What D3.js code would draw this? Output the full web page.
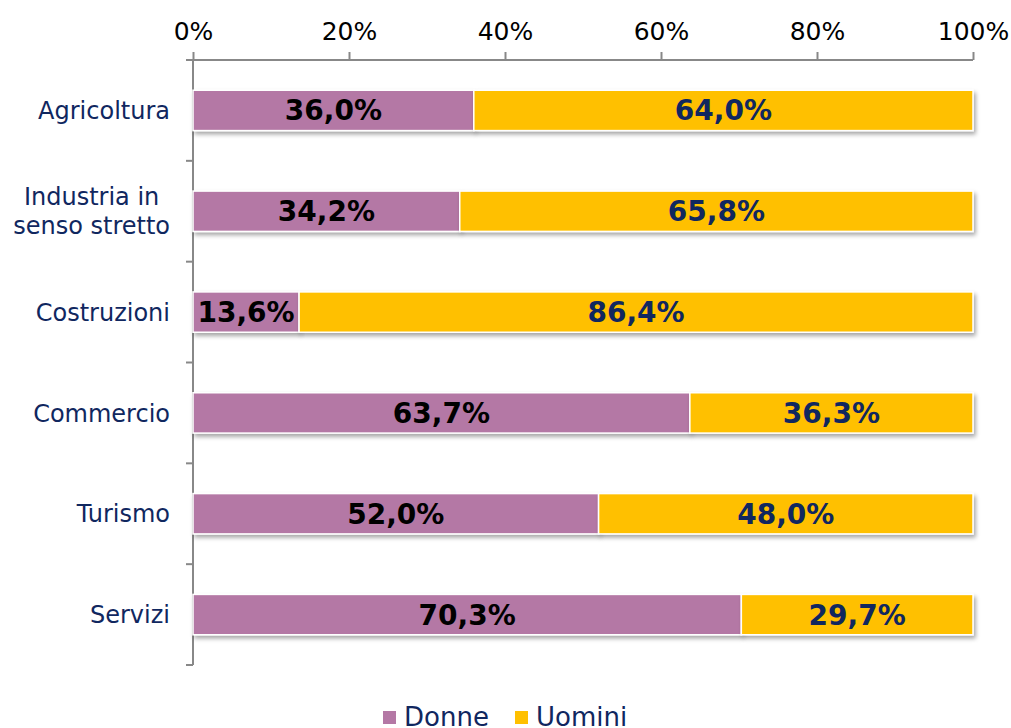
<!DOCTYPE html>
<html>
<head>
<meta charset="utf-8">
<script src="https://cdn.jsdelivr.net/npm/d3@7"></script>
<style>
  body { margin: 0; background: #fff; }
</style>
</head>
<body>
<svg id="chart" width="1011" height="728"></svg>
<script>
const categories = ['Agricoltura', 'Industria in\nsenso stretto', 'Costruzioni', 'Commercio', 'Turismo', 'Servizi']
const donne = [36.0, 34.2, 13.6, 63.7, 52.0, 70.3]
const uomini = [64.0, 65.8, 86.4, 36.3, 48.0, 29.7]
const xTicks = [0, 20, 40, 60, 80, 100]
const seriesNames = ['Donne', 'Uomini']

const margin = { top: 60, right: 38, bottom: 63, left: 193 }
const width = 1011 - margin.left - margin.right
const height = 728 - margin.top - margin.bottom
const font = 'DejaVu Sans, Verdana, sans-serif'
const navy = '#10275f'
const colors = ['#b478a5', '#ffc000']
const labelColors = ['#000000', navy]

const fmt = (v) => v.toFixed(1).replace('.', ',') + '%'

const svg = d3.select('#chart')

const defs = svg.append('defs')
const filter = defs.append('filter').attr('id', 'shadow')
  .attr('x', '-5%').attr('y', '-20%').attr('width', '110%').attr('height', '160%')
filter.append('feDropShadow')
  .attr('dx', 2).attr('dy', 3).attr('stdDeviation', 2)
  .attr('flood-color', '#000').attr('flood-opacity', 0.35)

const chart = svg.append('g').attr('transform', `translate(${margin.left},${margin.top})`)

const xScale = d3.scaleLinear().domain([0, 100]).range([0, width])
const yScale = d3.scaleBand().domain(categories).range([0, height]).paddingInner(0.6).paddingOuter(0.3)

// x axis on top
const xAxis = chart.append('g')
  .call(d3.axisTop(xScale).tickValues(xTicks).tickFormat((d) => d + '%').tickSize(8).tickSizeOuter(0))
xAxis.select('.domain').attr('stroke', '#888').attr('stroke-width', 2).attr('d', `M-7,0H${width}`)
xAxis.selectAll('.tick line').attr('stroke', '#888').attr('stroke-width', 2)
xAxis.selectAll('.tick text')
  .attr('font-family', font).attr('font-size', 25).attr('fill', '#000').attr('dy', '-0.38em')

// y axis: boundary ticks
const yAxis = chart.append('g')
yAxis.append('line').attr('x1', 0).attr('x2', 0).attr('y1', 0).attr('y2', height)
  .attr('stroke', '#888').attr('stroke-width', 2)
const step = yScale.step()
const boundaries = categories.map((c) => yScale(c) - yScale.paddingInner() * step / 2 + step)
yAxis.selectAll('.ytick')
  .data(boundaries)
  .enter()
  .append('line')
  .attr('x1', -7).attr('x2', 0)
  .attr('y1', (d) => d).attr('y2', (d) => d)
  .attr('stroke', '#888').attr('stroke-width', 2)

// category labels
categories.forEach(function (c) {
  const lines = c.split('\n')
  const cy = yScale(c) + yScale.bandwidth() / 2
  const g = chart.append('g')
  const lh = 29
  const texts = lines.map(function (l, i) {
    return g.append('text')
      .attr('y', cy + (i - (lines.length - 1) / 2) * lh)
      .attr('dy', '0.36em')
      .attr('font-family', font).attr('font-size', 24).attr('fill', navy)
      .text(l)
  })
  const maxW = d3.max(texts, (t) => t.node().getComputedTextLength())
  texts.forEach((t) => t.attr('x', -23 - maxW / 2).attr('text-anchor', 'middle'))
})

// stacked bars
const rows = categories.map((c, i) => ({ cat: c, vals: [donne[i], uomini[i]] }))

const bargroup = chart.selectAll('.row')
  .data(rows)
  .enter()
  .append('g')
  .attr('class', 'row')

bargroup.each(function (d) {
  const g = d3.select(this)
  let start = 0
  d.vals.forEach(function (v, k) {
    g.append('rect')
      .attr('x', xScale(start))
      .attr('y', yScale(d.cat))
      .attr('width', xScale(start + v) - xScale(start))
      .attr('height', yScale.bandwidth())
      .style('fill', colors[k])
      .attr('stroke', '#fff')
      .attr('stroke-width', 1.5)
      .attr('filter', 'url(#shadow)')
    start += v
  })
  start = 0
  d.vals.forEach(function (v, k) {
    g.append('text')
      .attr('x', xScale(start + v / 2))
      .attr('y', yScale(d.cat) + yScale.bandwidth() / 2)
      .attr('dy', '0.36em')
      .attr('text-anchor', 'middle')
      .attr('font-family', font).attr('font-weight', 'bold').attr('font-size', 28)
      .attr('fill', labelColors[k])
      .text(fmt(v))
    start += v
  })
})

// legend
const legend = svg.append('g').attr('transform', 'translate(383,717)')
const legendX = [0, 132]
seriesNames.forEach(function (s, k) {
  const lg = legend.append('g').attr('transform', `translate(${legendX[k]},0)`)
  lg.append('rect').attr('x', 0).attr('y', -6).attr('width', 13).attr('height', 13).style('fill', colors[k])
  lg.append('text').attr('x', 21).attr('y', 0).attr('dy', '0.36em')
    .attr('font-family', font).attr('font-size', 26).attr('fill', navy)
    .text(s)
})
</script>
</body>
</html>
